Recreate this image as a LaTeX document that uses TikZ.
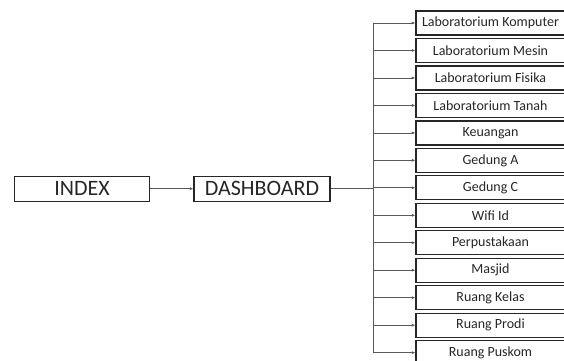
\documentclass[tikz,border=0pt]{standalone}
\usepackage{fontspec}
\setmainfont{Carlito}
\usetikzlibrary{arrows.meta}
\tikzset{
  mainbox/.style={draw=black!85, line width=1.3pt, minimum width=134.5pt, minimum height=25pt,
    inner sep=0pt, font=\fontsize{22}{24}\selectfont, text=black!85},
  menubox/.style={draw=black!85, line width=1.3pt, minimum width=149pt, minimum height=24pt,
    inner sep=0pt, font=\fontsize{14}{16}\selectfont, text=black!85},
  link/.style={draw=black!65, line width=0.7pt},
  arrowlink/.style={link, -{Latex[length=3.5pt,width=3pt]}},
}
\begin{document}
\begin{tikzpicture}[x=1pt,y=1pt]
  \useasboundingbox (0,0) rectangle (564,360);
  % main chain
  \node[mainbox] (index) at (82,171.3) {INDEX};
  \node[mainbox, minimum width=136pt] (dash) at (262,171.3) {DASHBOARD};
  \draw[arrowlink] (index.east) -- (dash.west);
  % menu entries
  \foreach \lbl [count=\i from 0] in {Laboratorium Komputer, Laboratorium Mesin, Laboratorium Fisika,
      Laboratorium Tanah, Keuangan, Gedung A, Gedung C, Wifi Id, Perpustakaan, Masjid,
      Ruang Kelas, Ruang Prodi, Ruang Puskom}{
    \node[menubox] (m\i) at (490.5, {337 - 27.47*\i}) {\lbl};
  }
  % branching trunk
  \coordinate (trunk) at (373,171.3);
  \coordinate (ttop) at (373,337);
  \coordinate (tbot) at (373,7.4);
  \draw[link] (dash.east) -- (trunk);
  \draw[link] (ttop) -- (tbot);
  \foreach \i in {0,...,12}{
    \draw[arrowlink] (trunk |- m\i.west) -- (m\i.west);
  }
\end{tikzpicture}
\end{document}
